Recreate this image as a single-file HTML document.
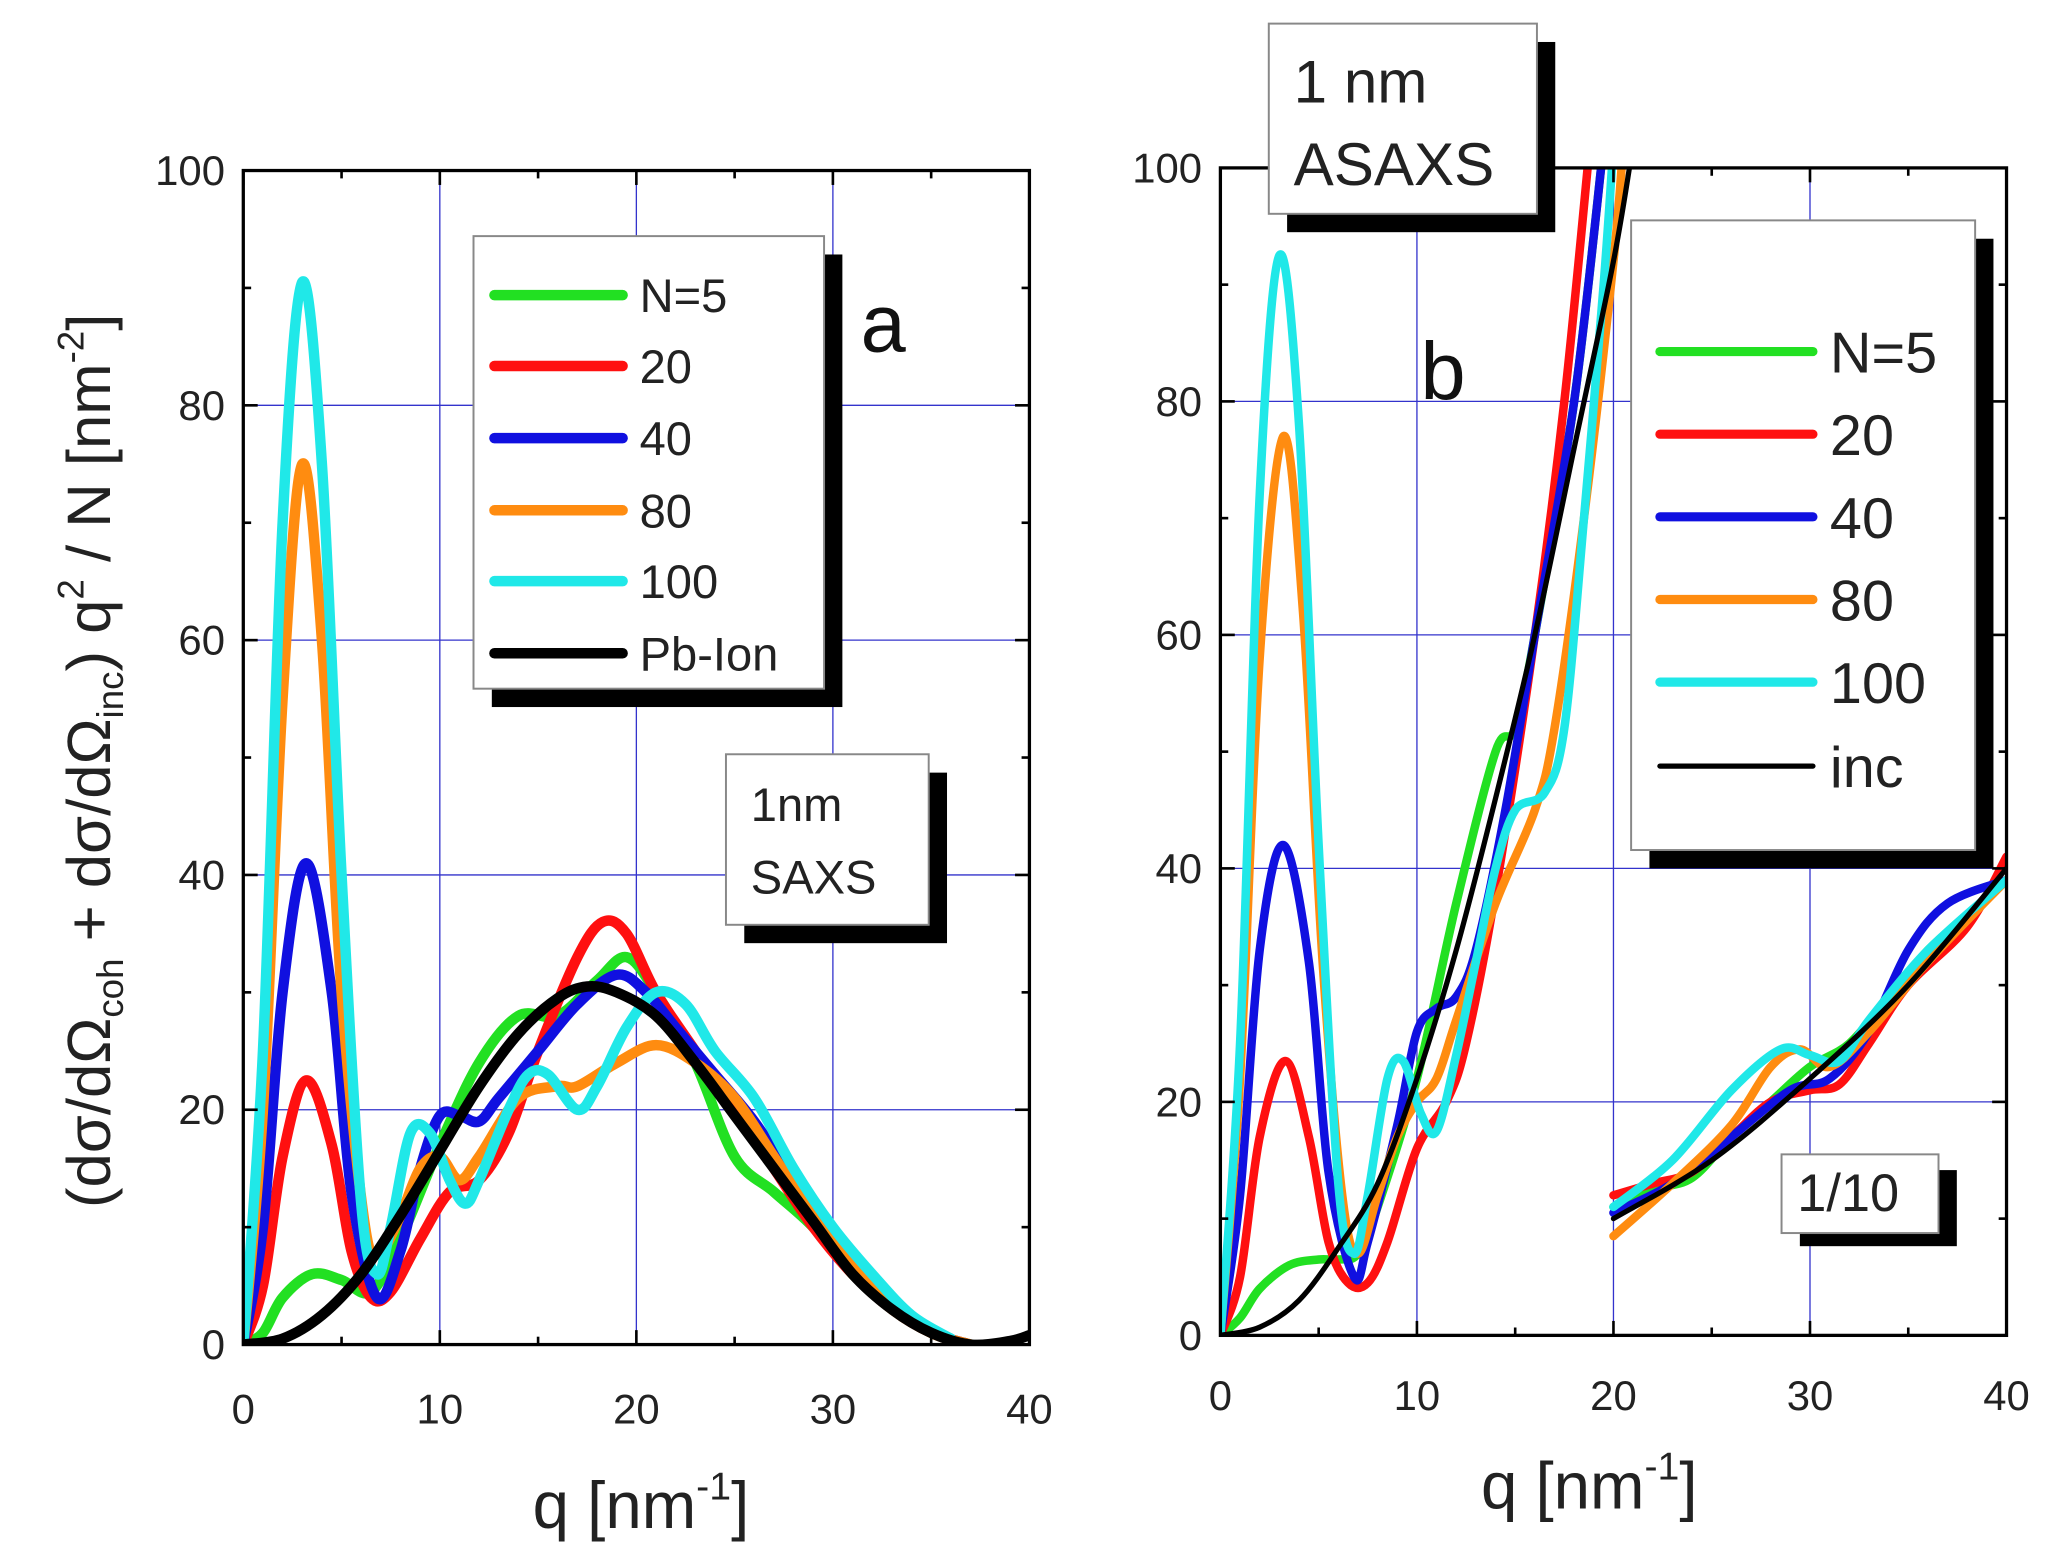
<!DOCTYPE html>
<html><head><meta charset="utf-8"><style>
html,body{margin:0;padding:0;background:#fff;}
svg{display:block;}
text{font-family:"Liberation Sans",sans-serif;}
</style></head><body>
<svg id="s" width="2051" height="1561" viewBox="0 0 1568 1190" preserveAspectRatio="none" xmlns="http://www.w3.org/2000/svg">
<defs>
<clipPath id="ca"><rect x="186" y="130" width="601" height="895"/></clipPath>
<clipPath id="cb"><rect x="933" y="128" width="601" height="890"/></clipPath>
</defs>
<g id="grid" stroke="#3333cc" stroke-width="1"></g>
<g id="curves"></g>
<g id="axes" fill="none" stroke="#000" stroke-width="2.5">
<rect x="186" y="130" width="601" height="895"/>
<rect x="933" y="128" width="601" height="890"/>
</g>
<g id="ticks" stroke="#000" stroke-width="2"></g>
<g id="labels" fill="#222" font-size="32"></g>
<!-- panel a legend -->
<rect x="376" y="194" width="268" height="345" fill="#000"/>
<rect x="362" y="180" width="268" height="345" fill="#fff" stroke="#888" stroke-width="1.5"/>
<g stroke-width="8" stroke-linecap="round">
<line x1="378" y1="225" x2="476" y2="225" stroke="#22e022"/>
<line x1="378" y1="279" x2="476" y2="279" stroke="#ff1010"/>
<line x1="378" y1="334" x2="476" y2="334" stroke="#1010e0"/>
<line x1="378" y1="389" x2="476" y2="389" stroke="#ff8c10"/>
<line x1="378" y1="443" x2="476" y2="443" stroke="#20e8e8"/>
<line x1="378" y1="498" x2="476" y2="498" stroke="#000"/>
</g>
<g font-size="36" fill="#222">
<text x="489" y="238">N=5</text><text x="489" y="292">20</text><text x="489" y="347">40</text>
<text x="489" y="402">80</text><text x="489" y="456">100</text><text x="489" y="511">Pb-Ion</text>
</g>
<text x="658" y="268" font-size="62" fill="#111">a</text>
<rect x="569" y="589" width="155" height="130" fill="#000"/>
<rect x="555" y="575" width="155" height="130" fill="#fff" stroke="#888" stroke-width="1.5"/>
<text x="574" y="626" font-size="36" fill="#222">1nm</text>
<text x="574" y="681" font-size="36" fill="#222">SAXS</text>
<!-- panel b legend -->
<rect x="1261" y="182" width="263" height="480" fill="#000"/>
<rect x="1247" y="168" width="263" height="480" fill="#fff" stroke="#888" stroke-width="1.5"/>
<g stroke-width="7" stroke-linecap="round">
<line x1="1269" y1="268" x2="1386" y2="268" stroke="#22e022"/>
<line x1="1269" y1="331" x2="1386" y2="331" stroke="#ff1010"/>
<line x1="1269" y1="394" x2="1386" y2="394" stroke="#1010e0"/>
<line x1="1269" y1="457" x2="1386" y2="457" stroke="#ff8c10"/>
<line x1="1269" y1="520" x2="1386" y2="520" stroke="#20e8e8"/>
<line x1="1269" y1="584" stroke-width="4" x2="1386" y2="584" stroke="#000"/>
</g>
<g font-size="44" fill="#222">
<text x="1399" y="284">N=5</text><text x="1399" y="347">20</text><text x="1399" y="410">40</text>
<text x="1399" y="473">80</text><text x="1399" y="536">100</text><text x="1399" y="600">inc</text>
</g>
<rect x="984" y="32" width="205" height="145" fill="#000"/>
<rect x="970" y="18" width="205" height="145" fill="#fff" stroke="#888" stroke-width="1.5"/>
<text x="989" y="78" font-size="46" fill="#222">1 nm</text>
<text x="989" y="141" font-size="46" fill="#222">ASAXS</text>
<text x="1086" y="304" font-size="62" fill="#111">b</text>
<rect x="1376" y="892" width="120" height="58" fill="#000"/>
<rect x="1362" y="880" width="120" height="60" fill="#fff" stroke="#888" stroke-width="1.5"/>
<text x="1374" y="923" font-size="40" fill="#222">1/10</text>
<!-- axis titles -->
<text x="490" y="1165" font-size="50" fill="#222" text-anchor="middle">q [nm<tspan dy="-22" font-size="30">-1</tspan><tspan dy="22">]</tspan></text>
<text x="1215" y="1150" font-size="50" fill="#222" text-anchor="middle">q [nm<tspan dy="-22" font-size="30">-1</tspan><tspan dy="22">]</tspan></text>
<text transform="translate(84,580) rotate(-90)" font-size="47" fill="#222" text-anchor="middle">(dσ/dΩ<tspan dy="10" font-size="28">coh</tspan><tspan dy="-10"> + dσ/dΩ</tspan><tspan dy="10" font-size="28">inc</tspan><tspan dy="-10">) q</tspan><tspan dy="-20" font-size="28">2</tspan><tspan dy="20"> / N [nm</tspan><tspan dy="-20" font-size="28">-2</tspan><tspan dy="20">]</tspan></text>
</svg>
<script>
var NS="http://www.w3.org/2000/svg";
function el(p,t,a){var e=document.createElementNS(NS,t);for(var k in a)e.setAttribute(k,a[k]);p.appendChild(e);return e;}
var A={x0:186,sx:15.025,y0:1025,sy:8.95},B={x0:933,sx:15.025,y0:1018,sy:8.9};
function path(P,pts){var p=pts.map(function(d){return [P.x0+d[0]*P.sx,P.y0-d[1]*P.sy];});
var s="M"+p[0][0]+","+p[0][1];
for(var i=0;i<p.length-1;i++){var a=p[i-1]||p[i],b=p[i],c=p[i+1],d=p[i+2]||c;
s+=" C"+(b[0]+(c[0]-a[0])/6)+","+(b[1]+(c[1]-a[1])/6)+" "+(c[0]-(d[0]-b[0])/6)+","+(c[1]-(d[1]-b[1])/6)+" "+c[0]+","+c[1];}
return s;}
var g=document.getElementById("grid"),cv=document.getElementById("curves"),tk=document.getElementById("ticks"),lb=document.getElementById("labels");
[[A,130],[B,128]].forEach(function(o){var P=o[0];
for(var q=10;q<40;q+=10)el(g,"line",{x1:P.x0+q*P.sx,x2:P.x0+q*P.sx,y1:o[1],y2:P.y0});
for(var v=20;v<100;v+=20)el(g,"line",{x1:P.x0,x2:P.x0+601,y1:P.y0-v*P.sy,y2:P.y0-v*P.sy});
for(var q=0;q<=40;q+=5){var x=P.x0+q*P.sx,L=q%10?6:11;
el(tk,"line",{x1:x,x2:x,y1:P.y0,y2:P.y0-L});el(tk,"line",{x1:x,x2:x,y1:o[1],y2:o[1]+L});
if(q%10==0){var t=el(lb,"text",{x:x,y:P.y0+(P===A?60:57),"text-anchor":"middle"});t.textContent=q;}}
for(var v=0;v<=100;v+=10){var y=P.y0-v*P.sy,L=v%20?6:11;
el(tk,"line",{x1:P.x0,x2:P.x0+L,y1:y,y2:y});el(tk,"line",{x1:P.x0+601,x2:P.x0+601-L,y1:y,y2:y});
if(v%20==0){var t=el(lb,"text",{x:P.x0-14,y:y+11,"text-anchor":"end"});t.textContent=v;}}
});
var ga=el(cv,"g",{"clip-path":"url(#ca)",fill:"none","stroke-linecap":"round","stroke-linejoin":"round"});
var gb=el(cv,"g",{"clip-path":"url(#cb)",fill:"none","stroke-linecap":"round","stroke-linejoin":"round"});
function draw(G,P,pts,c,w){el(G,"path",{d:path(P,pts),stroke:c,"stroke-width":w});}
var G="#22e022",R="#ff1010",Bl="#1010e0",O="#ff8c10",C="#20e8e8",K="#000";
draw(ga,A,[[0,0],[1,1],[2,4],[3.5,6],[5,5.5],[6.5,4.5],[8,9],[10,17],[12,24],[14,28],[16,28],[18,31],[19.5,33],[21,30],[23,24],[25,16],[27,13],[29,10],[31,6],[33,3],[35,1],[37,0]],G,8);
draw(ga,A,[[0,0],[1,5],[2,16],[3.2,22.5],[4.5,17],[5.5,8],[6.5,4],[7.5,4.5],[9,9],[10.5,13],[12,14],[13.5,18],[15,25],[17,33],[18.3,36],[19.5,35],[21,30],[23,25],[25,20],[27,15],[29,10],[31,6],[33,3],[35,1],[37,0]],R,8);
draw(ga,A,[[0,0],[1,10],[2,30],[3.2,41],[4.5,30],[5.5,13],[6.8,4],[8,8],[9,15],[10,19.5],[11,19.5],[12,19],[13,21],[15,25],[17,29],[19,31.5],[20.5,30],[22,27],[24,23],[26,19],[28,14],[30,9],[32,5],[34,2],[36,0.5]],Bl,8);
draw(ga,A,[[0,0],[1,20],[2,55],[3,75],[4,60],[5,30],[6.2,10],[7,8],[8,11],[9,15],[10,16],[11,14],[12,16],[14,21],[16,22],[17,22],[19,24],[21,25.5],[23,24],[25,21],[27,16],[29,11],[31,7],[33,3.5],[35,1],[37,0]],O,8);
draw(ga,A,[[0,0],[1,25],[2,70],[3,90.5],[4,75],[5,40],[6,12],[6.8,6],[7.5,10],[8.5,18],[9.5,18],[10.5,14],[11.3,12],[12,14],[13.5,20],[14.5,23],[15.5,23],[17,20],[18,22],[19.5,27],[21,30],[22.5,29],[24,25],[26,21],[28,15],[30,10],[32,6],[34,2.5],[36,0.5]],C,8);
draw(ga,A,[[0,0],[2,0.5],[4,2.5],[6,6],[8,11],[10,16.5],[12,22],[14,26.5],[16,29.5],[17.5,30.5],[19,30],[21,28],[23,24],[25,19.5],[27,15],[29,10.5],[31,6],[33,3],[35,1],[37,0],[39,0.3],[40,0.8]],K,8);
draw(gb,B,[[0,0],[1,1.5],[2,4],[3.5,6],[5,6.5],[6,6.5],[7,7],[8,11],[10,22],[12,37],[14,50],[15,52],[16,60],[18,80],[19.5,102]],G,6.5);
draw(gb,B,[[20,11],[22,12.5],[24,13.5],[26,17],[28,20],[30,23],[32,25],[34,29],[36,33],[38,36],[40,39]],G,6.5);
draw(gb,B,[[0,0],[1,5],[2,17],[3.3,23.5],[4.5,17],[5.5,8],[6.5,4.5],[7.5,4.5],[8.5,8],[10,16],[11.5,20],[12.5,25],[14,38],[16,60],[17.5,80],[18.8,102]],R,6.5);
draw(gb,B,[[20,12],[22,13],[24,14],[26,17],[28,20],[30,21],[31.5,21.5],[33,25],[35,30],[38,35],[40,41]],R,6.5);
draw(gb,B,[[0,0],[1,12],[2,33],[3.2,42],[4.5,32],[5.5,14],[6.8,5],[7.5,8],[9,18],[10,26],[11,28],[12,29],[13,33],[14.5,45],[16,60],[18,80],[19.5,102]],Bl,6.5);
draw(gb,B,[[20,10.5],[23,13],[26,17],[29,21],[31,22],[33,26],[35,33],[37,37],[40,39]],Bl,6.5);
draw(gb,B,[[0,0],[1,22],[2,58],[3.2,77],[4.2,62],[5.2,32],[6.2,12],[7,7],[8,12],[9,17],[10,20],[11,22],[12,27],[14,37],[16,45],[17,52],[18.5,70],[20,92],[20.5,102]],O,6.5);
draw(gb,B,[[20,8.5],[23,13],[26,18],[28,23],[29.5,24.5],[31,23],[33,26],[36,32],[40,39]],O,6.5);
draw(gb,B,[[0,0],[1,25],[2,72],[3,92.5],[4,78],[5,42],[6,13],[6.8,7],[7.5,12],[8.5,22],[9.3,23.5],[10.2,19],[11,17.5],[12,24],[13,32],[14,40],[15,45],[16.5,46.5],[17.5,52],[18.5,70],[19.5,90],[20,102]],C,6.5);
draw(gb,B,[[20,11],[23,15],[26,21],[28.5,24.5],[30,24],[31.5,23.5],[33,27],[36,33],[40,39]],C,6.5);
draw(gb,B,[[0,0],[2,0.7],[4,3],[6,7.5],[8,13],[10,22],[12,33],[14,46],[16,60],[18,76],[20,92],[21,102]],K,4);
draw(gb,B,[[20,10],[25,15],[30,22],[35,30],[40,40]],K,4);
</script>
</body></html>
